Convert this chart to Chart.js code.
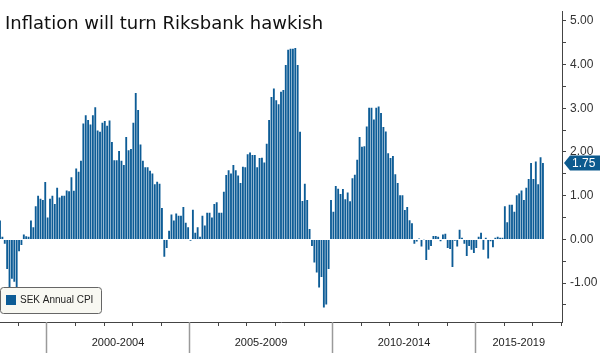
<!DOCTYPE html>
<html>
<head>
<meta charset="utf-8">
<script src="https://cdn.jsdelivr.net/npm/chart.js@4"></script>
<style>
  html, body { margin: 0; padding: 0; background: #fff; }
  #wrap { width: 600px; height: 353px; }
</style>
</head>
<body>
<div id="wrap"><canvas id="chart" width="600" height="353"></canvas></div>
<script>
// Swedish CPI, annual % change, monthly (May 1998 - May 2017)
const cpi1998_1999 = [
  0.43, 0.06, -0.10, -0.68, -1.15, -0.90, -0.97, -1.12,
  -0.27, -0.13, 0.11, 0.07, 0.06, 0.43, 0.28, 0.76, 1.00, 0.93, 0.90, 1.31
];
const cpi2000_2004 = [
  0.50, 0.93, 1.00, 0.81, 1.18, 0.96, 1.00, 1.00, 1.12, 1.10, 1.42, 1.11,
  1.62, 1.55, 1.80, 2.65, 2.84, 2.73, 2.63, 2.84, 3.02, 2.49, 2.46, 2.67,
  2.71, 2.60, 2.72, 2.23, 1.81, 1.81, 2.02, 1.80, 1.70, 2.34, 2.04, 2.07,
  2.67, 3.35, 2.96, 2.17, 1.80, 1.65, 1.65, 1.57, 1.51, 1.26, 1.32, 1.27,
  0.72, -0.40, -0.20, 0.20, 0.57, 0.43, 0.59, 0.54, 0.54, 0.74, 0.38, 0.28
];
const cpi2005_2009 = [
  -0.03, 0.68, 0.15, 0.28, 0.06, 0.54, 0.32, 0.61, 0.61, 0.50, 0.81, 0.85,
  0.61, 0.61, 1.09, 1.47, 1.58, 1.51, 1.70, 1.58, 1.46, 1.29, 1.66, 1.65,
  1.95, 1.99, 1.93, 1.93, 1.65, 1.86, 1.87, 1.76, 2.19, 2.73, 3.26, 3.45,
  3.18, 3.09, 3.38, 3.42, 3.99, 4.34, 4.36, 4.36, 4.38, 3.99, 2.46, 0.88,
  1.27, 0.90, 0.24, -0.15, -0.53, -0.76, -1.10, -0.86, -1.56, -1.49, -0.68, 0.90
];
const cpi2010_2014 = [
  0.63, 1.22, 1.16, 1.04, 1.15, 0.92, 1.07, 0.87, 1.40, 1.48, 1.82, 2.34,
  2.12, 2.13, 2.58, 3.01, 3.01, 2.74, 3.01, 3.04, 2.89, 2.57, 2.47, 1.97,
  1.86, 1.91, 1.49, 1.29, 1.01, 1.01, 0.67, 0.74, 0.44, 0.37, -0.10, -0.05,
  0.02, -0.16, -0.01, -0.47, -0.24, -0.15, 0.08, 0.08, 0.06, -0.04, 0.11, 0.13,
  -0.20, -0.22, -0.63, -0.03, -0.16, 0.22, 0.04, -0.10, -0.38, -0.15, -0.24, -0.31
];
const cpi2015_2017 = [
  -0.20, 0.06, 0.15, -0.24, 0.04, -0.44, -0.04, -0.18, 0.04, 0.06, 0.04, 0.04,
  0.76, 0.39, 0.79, 0.79, 0.63, 1.01, 1.05, 1.12, 0.90, 1.18, 1.38, 1.75,
  1.38, 1.78, 1.26, 1.88, 1.75
];

const firstMonth = [1998, 5];   // first bar
const lastMonth = [2018, 1];    // right edge of the axis
const groupLabels = ["2000-2004", "2005-2009", "2010-2014", "2015-2019"];
const groupStarts = [2000, 2005, 2010, 2015];
const yMin = -1.89;
const yMax = 5.22;
const seriesName = "SEK Annual CPI";
const titleText = "Inflation will turn Riksbank hawkish";

const barColor = "#0d5c96";

// month labels "YYYY-MM"
const labels = [];
for (let yr = firstMonth[0], mo = firstMonth[1]; yr * 12 + mo <= lastMonth[0] * 12 + lastMonth[1]; mo++) {
  if (mo > 12) { mo = 1; yr++; }
  labels.push(yr + "-" + String(mo).padStart(2, "0"));
}

const values = [].concat(cpi1998_1999, cpi2000_2004, cpi2005_2009, cpi2010_2014, cpi2015_2017);
const lastValue = values[values.length - 1];
while (values.length < labels.length) values.push(null);

const decorations = {
  id: "decorations",
  afterDraw(chart) {
    const { ctx, chartArea, scales: { x, y } } = chart;
    const step = x.getPixelForValue(1) - x.getPixelForValue(0);
    const bottom = chartArea.bottom;
    const boundary = {};

    ctx.save();
    // year ticks and 5-year separators
    labels.forEach((lab, i) => {
      if (!lab.endsWith("-01")) return;
      const yr = +lab.slice(0, 4);
      const px = Math.round(x.getPixelForValue(i) - step / 2) + 0.5;
      boundary[yr] = px;
      if (groupStarts.includes(yr)) {
        ctx.strokeStyle = "#9a9a9a";
        ctx.lineWidth = 1.5;
        ctx.beginPath();
        ctx.moveTo(px, bottom);
        ctx.lineTo(px, chart.height);
        ctx.stroke();
      } else {
        ctx.strokeStyle = "#444";
        ctx.lineWidth = 1;
        ctx.beginPath();
        ctx.moveTo(px, bottom);
        ctx.lineTo(px, bottom + 4);
        ctx.stroke();
      }
    });

    // group labels
    ctx.fillStyle = "#222";
    ctx.font = "11px 'Liberation Sans', Arial, sans-serif";
    ctx.textAlign = "center";
    ctx.textBaseline = "middle";
    groupLabels.forEach((txt, k) => {
      const x0 = boundary[groupStarts[k]];
      const x1 = boundary[groupStarts[k] + 5] !== undefined ? boundary[groupStarts[k] + 5] : chartArea.right;
      ctx.fillText(txt, (x0 + x1) / 2, bottom + 21);
    });

    // title
    ctx.fillStyle = "#111";
    ctx.font = "18px 'DejaVu Sans', sans-serif";
    ctx.textAlign = "left";
    ctx.textBaseline = "alphabetic";
    ctx.fillText(titleText, 5, 29);

    // legend box
    const lx = 0.5, ly = 287.5, lw = 101, lh = 26, r = 3;
    ctx.beginPath();
    ctx.moveTo(lx + r, ly);
    ctx.lineTo(lx + lw - r, ly);
    ctx.quadraticCurveTo(lx + lw, ly, lx + lw, ly + r);
    ctx.lineTo(lx + lw, ly + lh - r);
    ctx.quadraticCurveTo(lx + lw, ly + lh, lx + lw - r, ly + lh);
    ctx.lineTo(lx + r, ly + lh);
    ctx.quadraticCurveTo(lx, ly + lh, lx, ly + lh - r);
    ctx.lineTo(lx, ly + r);
    ctx.quadraticCurveTo(lx, ly, lx + r, ly);
    ctx.closePath();
    ctx.fillStyle = "#f8f8f2";
    ctx.fill();
    ctx.strokeStyle = "#666";
    ctx.lineWidth = 1;
    ctx.stroke();
    ctx.fillStyle = barColor;
    ctx.fillRect(6, 295, 10, 10);
    ctx.fillStyle = "#222";
    ctx.font = "10px 'Liberation Sans', Arial, sans-serif";
    ctx.textBaseline = "middle";
    ctx.fillText(seriesName, 20, 300.5);

    // last value badge
    const by = y.getPixelForValue(lastValue);
    const bx = chartArea.right + 2;
    ctx.beginPath();
    ctx.moveTo(bx, by);
    ctx.lineTo(bx + 6, by - 7.5);
    ctx.lineTo(chart.width, by - 7.5);
    ctx.lineTo(chart.width, by + 7.5);
    ctx.lineTo(bx + 6, by + 7.5);
    ctx.closePath();
    ctx.fillStyle = "#0c5a8e";
    ctx.fill();
    ctx.fillStyle = "#fff";
    ctx.font = "12px 'Liberation Sans', Arial, sans-serif";
    ctx.textAlign = "left";
    ctx.fillText(lastValue.toFixed(2), bx + 8, by + 0.5);
    ctx.restore();
  }
};

new Chart(document.getElementById("chart").getContext("2d"), {
  type: "bar",
  data: {
    labels: labels,
    datasets: [{
      label: seriesName,
      data: values,
      backgroundColor: barColor,
      borderWidth: 0,
      barPercentage: 0.78,
      categoryPercentage: 1
    }]
  },
  options: {
    responsive: false,
    animation: false,
    devicePixelRatio: 1,
    layout: { padding: 0 },
    plugins: {
      legend: { display: false },
      tooltip: { enabled: false },
      title: { display: false }
    },
    scales: {
      x: {
        type: "category",
        offset: false,
        grid: { display: false },
        border: { display: true, color: "#444" },
        ticks: { display: false },
        afterFit: s => { s.height = 31; }
      },
      y: {
        position: "right",
        min: yMin,
        max: yMax,
        border: { display: true, color: "#444" },
        grid: { drawOnChartArea: false, drawTicks: true, tickLength: 4, color: "#444" },
        ticks: {
          stepSize: 0.5,
          includeBounds: false,
          autoSkip: false,
          padding: 4,
          color: "#333",
          font: { family: "'Liberation Sans', Arial, sans-serif", size: 12 },
          callback: v => Number.isInteger(v) ? v.toFixed(2) : ""
        },
        afterFit: s => { s.width = 38; }
      }
    }
  },
  plugins: [decorations]
});
</script>
</body>
</html>
